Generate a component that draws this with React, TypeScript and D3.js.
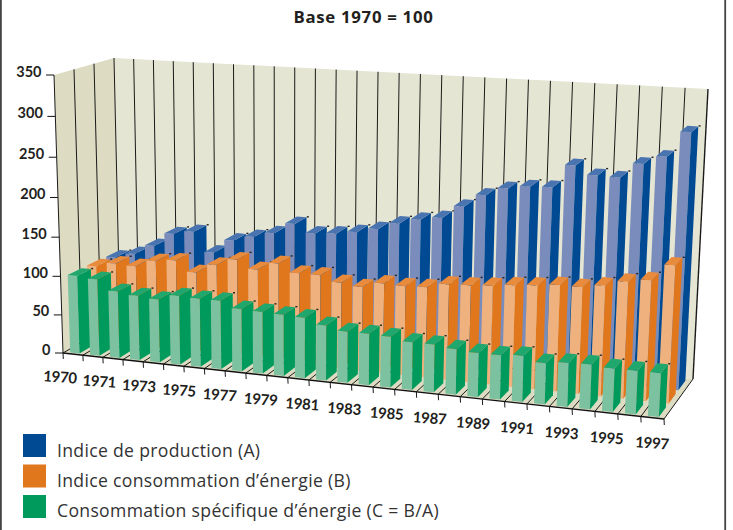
import React from "react";
import * as d3 from "d3";

// Series values, one per year
const years = d3.range(1970, 1998);
const production = [100, 107, 120, 138, 143, 118, 136, 143, 150, 164, 154, 156, 160, 166, 175, 182, 186, 202, 218, 228, 232, 233, 261, 251, 250, 268, 278, 308];
const energie = [101, 107, 106, 115, 118, 105, 117, 126, 116, 126, 116, 116, 109, 106, 113, 112, 113, 119, 120, 122, 125, 127, 130, 130, 134, 141, 145, 165];
const specifique = [101, 99, 86, 83, 81, 88, 87, 87, 79, 78, 77, 76, 69, 64, 64, 63, 59, 59, 56, 54, 54, 56, 50, 53, 54, 52, 52, 52];
const valueTicks = [0, 50, 100, 150, 200, 250, 300, 350];
const yearLabels = ["1970", "1971", "1973", "1975", "1977", "1979", "1981", "1983", "1985", "1987", "1989", "1991", "1993", "1995", "1997"];
const legendLabels = ["Indice de production (A)", "Indice consommation d\u2019énergie (B)", "Consommation spécifique d\u2019énergie (C = B/A)"];

type P = [number, number];

// Corners of the drawing box on screen
const frontBottomLeft: P = [63, 353];
const frontBottomRight: P = [664, 419];
const backBottomLeft: P = [120, 320];
const backBottomRight: P = [693, 379];
const frontTopLeft: P = [54, 75];
const frontTopRight: P = [679, 111];
const backTopLeft: P = [114, 58];
const backTopRight: P = [708, 89];

const xScale = d3.scaleLinear().domain([0, years.length]).range([0, 1]);
const yScale = d3.scaleLinear().domain([0, 350]).range([0, 1]);
const zScale = d3.scaleLinear().domain([0, 3]).range([0, 1]);

// Rational easing gives the foreshortening of a perspective view
const warp = (t: number, r: number) => t / (t + r * (1 - t));
const mix = (a: P, b: P, t: number): P => [a[0] + (b[0] - a[0]) * t, a[1] + (b[1] - a[1]) * t];

// x in category slots, v in index units, z in series rows
function project(x: number, v: number, z: number): P {
  const tx = warp(xScale(x), 1.083);
  const ty = warp(yScale(v), 1.05);
  const tz = zScale(z);
  const bottom = mix(mix(frontBottomLeft, frontBottomRight, tx), mix(backBottomLeft, backBottomRight, tx), tz);
  const top = mix(mix(frontTopLeft, frontTopRight, tx), mix(backTopLeft, backTopRight, tx), tz);
  return mix(bottom, top, ty);
}

const poly = (pts: P[]) => pts.map((p) => `${p[0].toFixed(2)},${p[1].toFixed(2)}`).join(" ");

const rows = [
  { key: "specifique", values: specifique, row: 0, front: "#7cc2a0", side: "#009a5c", top: "#1fa76e" },
  { key: "energie", values: energie, row: 1, front: "#efb17e", side: "#e0771c", top: "#e98b3c" },
  { key: "production", values: production, row: 2, front: "#7a8cbc", side: "#004a94", top: "#4a74b0" },
];
const legendColors = ["#004a94", "#e0771c", "#009a5c"];

const barWidth = 0.47;
const barDepth = 0.72;
const BOLD = "Lato, sans-serif";
const BODY = "'Open Sans', sans-serif";

function Bar({ i, v, row, front, side, top }: { i: number; v: number; row: number; front: string; side: string; top: string }) {
  const x0 = i + (1 - barWidth) / 2;
  const x1 = x0 + barWidth;
  const z0 = row + 0.1;
  const z1 = z0 + barDepth;
  const a = project(x0, v, z0);
  const b = project(x1, v, z0);
  const c = project(x1, v, z1);
  const d = project(x0, v, z1);
  const a0 = project(x0, 0, z0);
  const b0 = project(x1, 0, z0);
  const c0 = project(x1, 0, z1);
  return (
    <g>
      <polygon points={poly([a, b, b0, a0])} fill={front} />
      <polygon points={poly([b, c, c0, b0])} fill={side} />
      <polygon points={poly([a, b, c, d])} fill={top} />
      <line x1={c[0] + 0.3} y1={c[1] - 0.5} x2={c[0] + 2.3} y2={c[1] - 0.5} stroke="#222" strokeWidth={1.4} />
    </g>
  );
}

export default function App() {
  const slots = d3.range(0, years.length + 1);
  return (
    <svg width={733} height={530} style={{ position: "absolute", left: 0, top: 0, background: "#fff" }} fontFamily={BOLD}>
      <line x1={0.9} y1={0} x2={0.9} y2={530} stroke="#444" strokeWidth={1.8} />
      <line x1={725.2} y1={0} x2={725.2} y2={530} stroke="#444" strokeWidth={1.8} />
      <text x={363.5} y={23} textAnchor="middle" fontFamily={BODY} fontSize={16.8} fontWeight={700} letterSpacing={0.7} fill="#231f20">Base 1970 = 100</text>

      {/* walls and floor */}
      <polygon points={poly([frontTopLeft, backTopLeft, backBottomLeft, frontBottomLeft])} fill="#dddbc2" />
      <polygon points={poly([backTopLeft, backTopRight, backBottomRight, backBottomLeft])} fill="#e5e5d3" />
      <polygon points={poly([frontBottomLeft, backBottomLeft, backBottomRight, frontBottomRight])} fill="#dddbc2" />

      {slots.map((s) => {
        const p = project(s, 0, 3);
        const q = project(s, 350, 3);
        const f = project(s, 0, 0);
        return (
          <g key={s} stroke="#1a1a1a">
            <line x1={p[0]} y1={p[1]} x2={q[0]} y2={q[1]} strokeWidth={s === years.length ? 1.4 : 1} />
            <line x1={f[0]} y1={f[1]} x2={p[0]} y2={p[1]} strokeWidth={1} />
            <line x1={f[0]} y1={f[1]} x2={f[0] + 0.3} y2={f[1] + 6} strokeWidth={1} />
          </g>
        );
      })}
      {[0, 1, 2].map((z) => {
        const p = project(0, 0, z);
        const q = project(0, 350, z);
        return <line key={z} x1={p[0]} y1={p[1]} x2={q[0]} y2={q[1]} stroke="#1a1a1a" strokeWidth={1} />;
      })}
      {(() => {
        const a = project(0, 0, 0);
        const b = project(years.length, 0, 0);
        return <line x1={a[0]} y1={a[1]} x2={b[0]} y2={b[1]} stroke="#111" strokeWidth={1.4} />;
      })()}

      {/* back row first so nearer bars paint over it */}
      {[...rows].reverse().map((r) =>
        r.values.map((v, i) => <Bar key={r.key + i} i={i} v={v} row={r.row} front={r.front} side={r.side} top={r.top} />)
      )}

      {valueTicks.map((t) => {
        const p = project(0, t, 0);
        return (
          <g key={t}>
            <line x1={p[0] - 8} y1={p[1]} x2={p[0]} y2={p[1]} stroke="#111" strokeWidth={1} />
            <text x={p[0] - 12.5} y={p[1] + 1.5} textAnchor="end" fontSize={14.5} fontWeight={700} fill="#231f20">{t}</text>
          </g>
        );
      })}

      {yearLabels.map((label, k) => {
        const p = project(k * 2, 0, 0);
        const cx = p[0] - 3 - (9 * k) / 14;
        const cy = p[1] + 25.5;
        return (
          <text key={label} x={cx} y={cy} textAnchor="middle" dominantBaseline="middle" fontSize={15} letterSpacing={-0.3} fontWeight={700} fill="#231f20" transform={`rotate(4 ${cx} ${cy})`}>{label}</text>
        );
      })}

      {legendLabels.map((label, k) => (
        <g key={label}>
          <rect x={23} y={434 + k * 30.5} width={23} height={23} fill={legendColors[k]} />
          <text x={57} y={457 + k * 30} fontFamily={BODY} fontSize={17.6} letterSpacing={0.32} fill="#333">{label}</text>
        </g>
      ))}
    </svg>
  );
}
